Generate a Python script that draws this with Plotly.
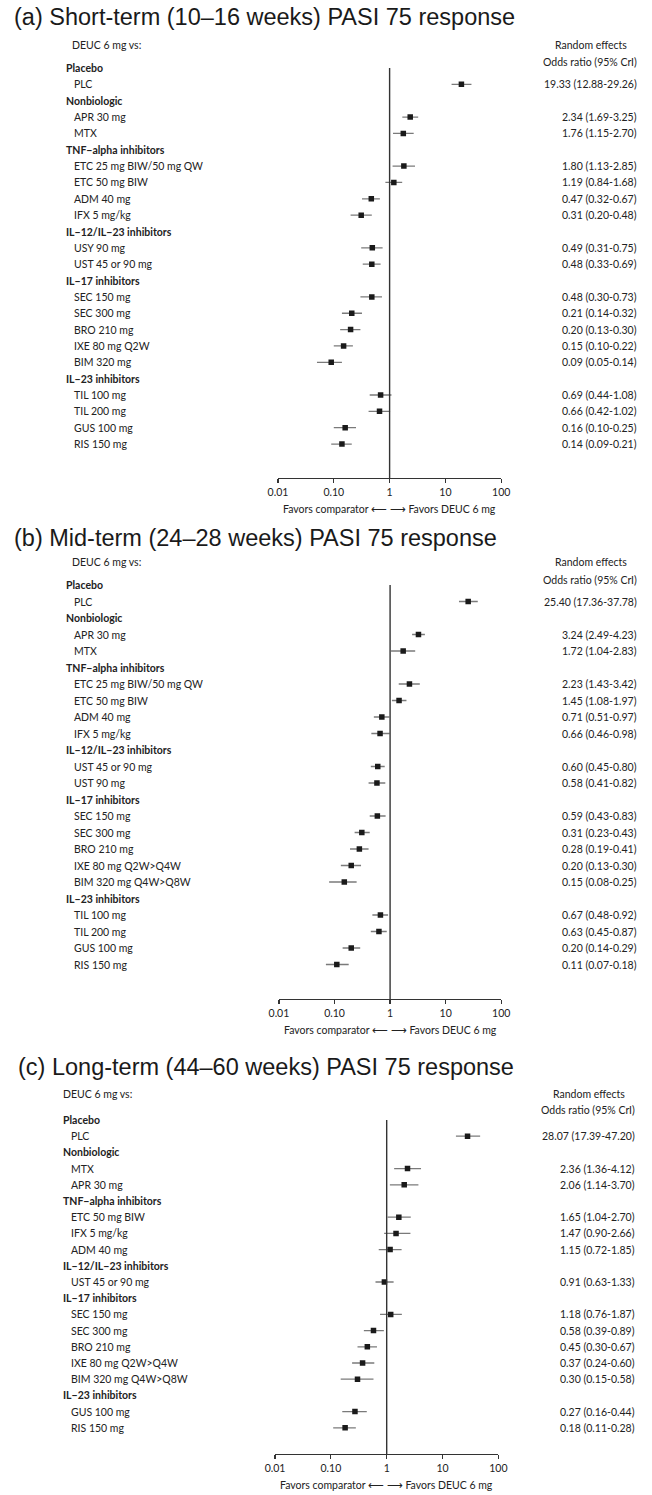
import plotly.graph_objects as go

W, H = 652, 1495

# ---------------- data ----------------
# (a) short-term
a_groups = ["Placebo", "Nonbiologic", "TNF−alpha inhibitors", "IL−12/IL−23 inhibitors", "IL−17 inhibitors", "IL−23 inhibitors"]
a_sizes = [1, 2, 4, 2, 5, 4]
a_labels = ["PLC", "APR 30 mg", "MTX", "ETC 25 mg BIW/50 mg QW", "ETC 50 mg BIW", "ADM 40 mg", "IFX 5 mg/kg",
            "USY 90 mg", "UST 45 or 90 mg", "SEC 150 mg", "SEC 300 mg", "BRO 210 mg", "IXE 80 mg Q2W", "BIM 320 mg",
            "TIL 100 mg", "TIL 200 mg", "GUS 100 mg", "RIS 150 mg"]
a_or = [19.33, 2.34, 1.76, 1.80, 1.19, 0.47, 0.31, 0.49, 0.48, 0.48, 0.21, 0.20, 0.15, 0.09, 0.69, 0.66, 0.16, 0.14]
a_lo = [12.88, 1.69, 1.15, 1.13, 0.84, 0.32, 0.20, 0.31, 0.33, 0.30, 0.14, 0.13, 0.10, 0.05, 0.44, 0.42, 0.10, 0.09]
a_hi = [29.26, 3.25, 2.70, 2.85, 1.68, 0.67, 0.48, 0.75, 0.69, 0.73, 0.32, 0.30, 0.22, 0.14, 1.08, 1.02, 0.25, 0.21]

# (b) mid-term
b_groups = ["Placebo", "Nonbiologic", "TNF−alpha inhibitors", "IL−12/IL−23 inhibitors", "IL−17 inhibitors", "IL−23 inhibitors"]
b_sizes = [1, 2, 4, 2, 5, 4]
b_labels = ["PLC", "APR 30 mg", "MTX", "ETC 25 mg BIW/50 mg QW", "ETC 50 mg BIW", "ADM 40 mg", "IFX 5 mg/kg",
            "UST 45 or 90 mg", "UST 90 mg", "SEC 150 mg", "SEC 300 mg", "BRO 210 mg", "IXE 80 mg Q2W>Q4W",
            "BIM 320 mg Q4W>Q8W", "TIL 100 mg", "TIL 200 mg", "GUS 100 mg", "RIS 150 mg"]
b_or = [25.40, 3.24, 1.72, 2.23, 1.45, 0.71, 0.66, 0.60, 0.58, 0.59, 0.31, 0.28, 0.20, 0.15, 0.67, 0.63, 0.20, 0.11]
b_lo = [17.36, 2.49, 1.04, 1.43, 1.08, 0.51, 0.46, 0.45, 0.41, 0.43, 0.23, 0.19, 0.13, 0.08, 0.48, 0.45, 0.14, 0.07]
b_hi = [37.78, 4.23, 2.83, 3.42, 1.97, 0.97, 0.98, 0.80, 0.82, 0.83, 0.43, 0.41, 0.30, 0.25, 0.92, 0.87, 0.29, 0.18]

# (c) long-term
c_groups = ["Placebo", "Nonbiologic", "TNF−alpha inhibitors", "IL−12/IL−23 inhibitors", "IL−17 inhibitors", "IL−23 inhibitors"]
c_sizes = [1, 2, 3, 1, 5, 2]
c_labels = ["PLC", "MTX", "APR 30 mg", "ETC 50 mg BIW", "IFX 5 mg/kg", "ADM 40 mg", "UST 45 or 90 mg",
            "SEC 150 mg", "SEC 300 mg", "BRO 210 mg", "IXE 80 mg Q2W>Q4W", "BIM 320 mg Q4W>Q8W",
            "GUS 100 mg", "RIS 150 mg"]
c_or = [28.07, 2.36, 2.06, 1.65, 1.47, 1.15, 0.91, 1.18, 0.58, 0.45, 0.37, 0.30, 0.27, 0.18]
c_lo = [17.39, 1.36, 1.14, 1.04, 0.90, 0.72, 0.63, 0.76, 0.39, 0.30, 0.24, 0.15, 0.16, 0.11]
c_hi = [47.20, 4.12, 3.70, 2.70, 2.66, 1.85, 1.33, 1.87, 0.89, 0.67, 0.60, 0.58, 0.44, 0.28]

titles = ["(a) Short-term (10–16 weeks) PASI 75 response",
          "(b) Mid-term (24–28 weeks) PASI 75 response",
          "(c) Long-term (44–60 weeks) PASI 75 response"]
tick_vals = [0.01, 0.1, 1, 10, 100]
tick_text = ["0.01", "0.10", "1", "10", "100"]

# ---------------- layout (pixels) ----------------
geo = [
    dict(title_x=2, title_y=17, deuc_y=45, odds_y=62, top=68, step=16.35, axis=478, x0=276, x1=506,
         hdr_x=56, item_x=64, deuc_x=62, right=648, rand_x=598),
    dict(title_x=2, title_y=538, deuc_y=562, odds_y=580, top=585, step=16.5, axis=999, x0=277, x1=506,
         hdr_x=56, item_x=64, deuc_x=62, right=648, rand_x=598),
    dict(title_x=6, title_y=1067, deuc_y=1094, odds_y=1110, top=1120, step=16.2, axis=1454, x0=273, x1=503,
         hdr_x=53, item_x=61, deuc_x=53, right=646, rand_x=596),
]
data = [
    (a_groups, a_sizes, a_labels, a_or, a_lo, a_hi),
    (b_groups, b_sizes, b_labels, b_or, b_lo, b_hi),
    (c_groups, c_sizes, c_labels, c_or, c_lo, c_hi),
]

TXT = "Lato, Liberation Sans, sans-serif"
TITLE = "Liberation Sans, Arial, sans-serif"
TC = "#222222"
FS = 10.5

fig = go.Figure()
ann = []
shapes = []


def py(p):
    return 1 - p / H


for k, (g, (groups, sizes, labels, orv, lo, hi)) in enumerate(zip(geo, data), start=1):
    xa = "x" if k == 1 else f"x{k}"
    ya = "y" if k == 1 else f"y{k}"
    xname = "xaxis" if k == 1 else f"xaxis{k}"
    yname = "yaxis" if k == 1 else f"yaxis{k}"

    rows_item = []
    r = 0
    idx = 0
    for grp, n in zip(groups, sizes):
        ann.append(dict(text=f"<b>{grp}</b>", x=g["hdr_x"] / W, xref="paper", y=r, yref=ya,
                        xanchor="left", yanchor="middle", showarrow=False,
                        font=dict(family=TXT, size=FS, color=TC)))
        r += 1
        for _ in range(n):
            ann.append(dict(text=labels[idx], x=g["item_x"] / W, xref="paper", y=r, yref=ya,
                            xanchor="left", yanchor="middle", showarrow=False,
                            font=dict(family=TXT, size=FS, color=TC)))
            ann.append(dict(text=f"{orv[idx]:.2f} ({lo[idx]:.2f}-{hi[idx]:.2f})", x=g["right"] / W,
                            xref="paper", y=r, yref=ya, xanchor="right", yanchor="middle",
                            showarrow=False, font=dict(family=TXT, size=FS, color=TC)))
            rows_item.append(r)
            r += 1
            idx += 1

    axis_row = (g["axis"] - g["top"]) / g["step"]
    top_row = -2.0
    dom_top = g["top"] + top_row * g["step"]

    cx, cy = [], []
    for l_, h_, rr in zip(lo, hi, rows_item):
        cx += [l_, h_, None]
        cy += [rr, rr, None]
    fig.add_trace(go.Scatter(x=cx, y=cy, mode="lines", xaxis=xa, yaxis=ya,
                             line=dict(color="#7a7a7a", width=1.3), hoverinfo="skip", showlegend=False))
    fig.add_trace(go.Scatter(x=orv, y=rows_item, mode="markers", xaxis=xa, yaxis=ya,
                             marker=dict(symbol="square", size=5.5, color="#1a1a1a"),
                             showlegend=False))

    shapes.append(dict(type="line", xref=xa, yref=ya, x0=1, x1=1, y0=0, y1=axis_row,
                       line=dict(color="#333333", width=1.4)))

    fig.layout[xname] = dict(type="log", range=[-2, 2], domain=[g["x0"] / W, g["x1"] / W], anchor=ya,
                             showline=True, linecolor="#333333", linewidth=1.3, ticks="outside",
                             ticklen=4, tickwidth=1.2, tickcolor="#333333", tickvals=tick_vals,
                             ticktext=tick_text, tickfont=dict(family=TXT, size=FS, color=TC),
                             showgrid=False, zeroline=False, fixedrange=True)
    fig.layout[yname] = dict(range=[axis_row, top_row], domain=[py(g["axis"]), py(dom_top)],
                             visible=False, anchor=xa, fixedrange=True)

    ann.append(dict(text=titles[k - 1], x=g["title_x"] / W, xref="paper", y=py(g["title_y"]), yref="paper",
                    xanchor="left", yanchor="middle", showarrow=False,
                    font=dict(family=TITLE, size=23.5, color="#1a1a1a")))
    ann.append(dict(text="DEUC 6 mg vs:", x=g["deuc_x"] / W, xref="paper", y=py(g["deuc_y"]), yref="paper",
                    xanchor="left", yanchor="middle", showarrow=False,
                    font=dict(family=TXT, size=FS, color=TC)))
    ann.append(dict(text="Random effects", x=g["rand_x"] / W, xref="paper", y=py(g["deuc_y"]), yref="paper",
                    xanchor="center", yanchor="middle", showarrow=False,
                    font=dict(family=TXT, size=FS, color=TC)))
    ann.append(dict(text="Odds ratio (95% CrI)", x=g["right"] / W, xref="paper", y=py(g["odds_y"]),
                    yref="paper", xanchor="right", yanchor="middle", showarrow=False,
                    font=dict(family=TXT, size=FS, color=TC)))
    ann.append(dict(text="Favors comparator \u27f5 \u27f6 Favors DEUC 6 mg", x=0, xref=xa,
                    y=py(g["axis"] + 31), yref="paper", xanchor="center", yanchor="middle",
                    showarrow=False, font=dict(family=TXT, size=FS, color=TC)))

fig.update_layout(width=W, height=H, margin=dict(l=0, r=0, t=0, b=0), autosize=False,
                  paper_bgcolor="white", plot_bgcolor="white", annotations=ann, shapes=shapes,
                  showlegend=False)

fig.write_html("out.html", config={"displayModeBar": False, "staticPlot": True},
               post_script="document.body.style.margin='0px';document.body.style.padding='0px';"
                           "document.body.style.overflow='hidden';")
